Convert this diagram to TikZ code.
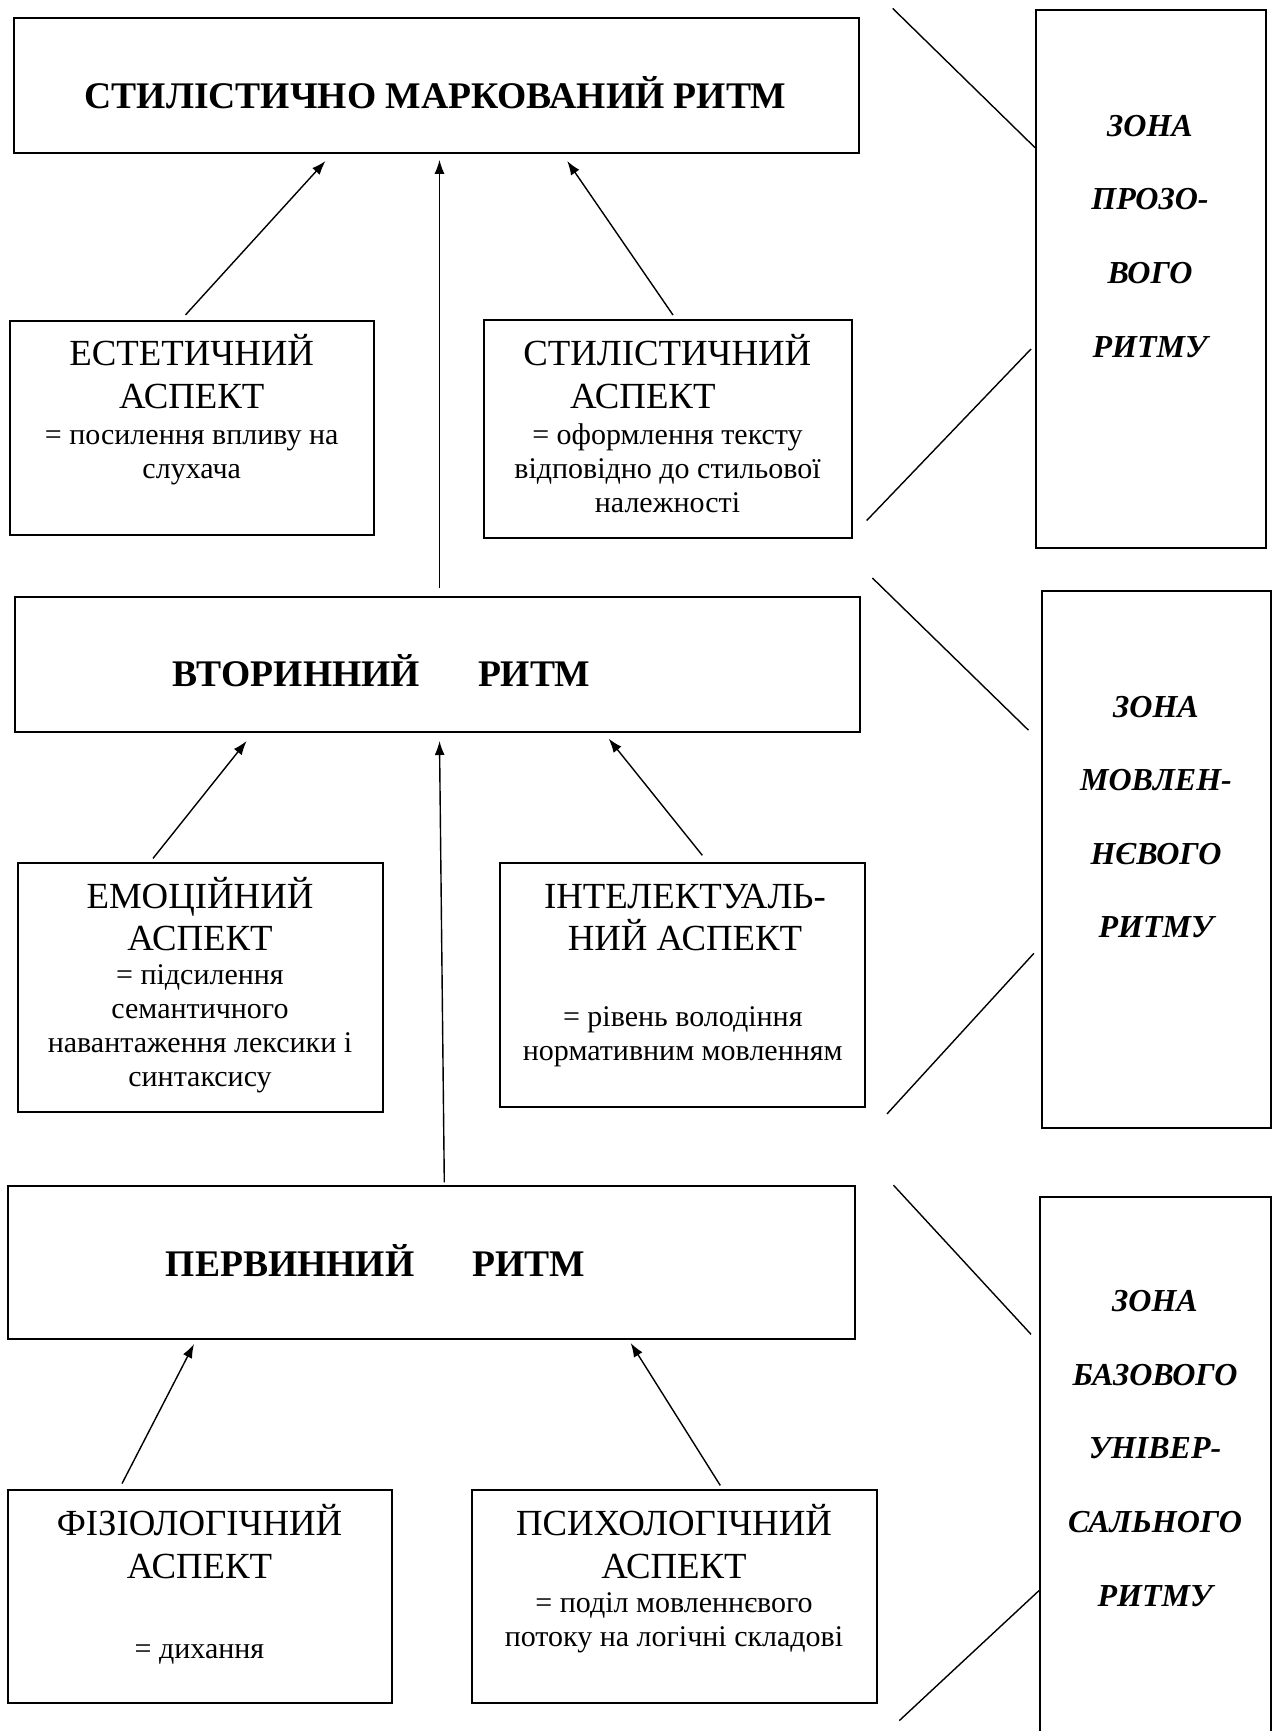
\documentclass[tikz,border=0pt]{standalone}
\usepackage{fontspec}
\setmainfont{Liberation Serif}
\usetikzlibrary{arrows.meta}

\tikzset{
  box/.style={draw, line width=1pt, inner sep=0pt},
  arr/.style={-{Latex[length=7pt,width=5pt]}, line width=0.7pt},
  link/.style={line width=0.7pt},
  main/.style={inner sep=0pt, font=\fontsize{18.8}{21}\selectfont\bfseries},
  asp/.style={inner sep=0pt, align=center, font=\fontsize{18.4}{21.2}\selectfont},
  note/.style={inner sep=0pt, align=center, font=\fontsize{15}{17}\selectfont},
  zone/.style={inner sep=0pt, align=center, font=\fontsize{16}{36.8}\selectfont\bfseries\itshape}
}

\begin{document}
\begin{tikzpicture}[x=0.5pt,y=-0.5pt]
  \useasboundingbox (0,0) rectangle (1276,1731);

  % Levels of rhythm
  \node[box, minimum width=422.4pt, minimum height=67.5pt] (top) at (436.2,85.5) {};
  \node[box, minimum width=422.7pt, minimum height=67.4pt] (sec) at (437.3,664.5) {};
  \node[box, minimum width=423.2pt, minimum height=76.5pt] (pri) at (431.3,1262.5) {};
  \node[main, anchor=base] (top-t) at (435.4,108.3) {СТИЛІСТИЧНО МАРКОВАНИЙ РИТМ};
  \node[main, anchor=base] (sec-t) at (381.3,686) {ВТОРИННИЙ\hspace{29pt}РИТМ};
  \node[main, anchor=base] (pri-t) at (375.2,1276) {ПЕРВИННИЙ\hspace{29pt}РИТМ};

  % Aspects (base = last line)
  \node[box, minimum width=182.3pt, minimum height=107.2pt] (est) at (192,427.8) {};
  \node[box, minimum width=183.9pt, minimum height=108.9pt] (sty) at (668.1,428.9) {};
  \node[box, minimum width=182.3pt, minimum height=124.4pt] (emo) at (200.2,987.6) {};
  \node[box, minimum width=182.3pt, minimum height=122.1pt] (int) at (682.75,985.3) {};
  \node[box, minimum width=192.1pt, minimum height=106.5pt] (phy) at (200.2,1596.5) {};
  \node[box, minimum width=202.3pt, minimum height=106.5pt] (psy) at (674.25,1596.5) {};

  \node[asp, anchor=base] (est-t) at (191.7,408.3) {ЕСТЕТИЧНИЙ\\АСПЕКТ};
  \node[note, anchor=base] (est-n) at (191.7,478.3) {= посилення впливу на\\слухача};
  \node[asp, anchor=base] (sty-t) at (667.3,408.3) {СТИЛІСТИЧНИЙ\\АСПЕКТ\rule{24.5pt}{0pt}};
  \node[note, anchor=base] (sty-n) at (667.5,512) {= оформлення тексту\\відповідно до стильової\\належності};
  \node[asp, anchor=base] (emo-t) at (200,950.4) {ЕМОЦІЙНИЙ\\АСПЕКТ};
  \node[note, anchor=base] (emo-n) at (200,1086) {= підсилення\\семантичного\\навантаження лексики і\\синтаксису};
  \node[asp, anchor=base] (int-t) at (685,950.4) {ІНТЕЛЕКТУАЛЬ-\\НИЙ АСПЕКТ};
  \node[note, anchor=base] (int-n) at (682.8,1060.3) {= рівень володіння\\нормативним мовленням};
  \node[asp, anchor=base] (phy-t) at (199.5,1578) {ФІЗІОЛОГІЧНИЙ\\АСПЕКТ};
  \node[note, anchor=base] (phy-n) at (199.5,1658) {= дихання};
  \node[asp, anchor=base] (psy-t) at (674,1578) {ПСИХОЛОГІЧНИЙ\\АСПЕКТ};
  \node[note, anchor=base] (psy-n) at (674,1646.5) {= поділ мовленнєвого\\потоку на логічні складові};

  % Arrows
  \draw[arr] ([shift={(-6.5,-4.7)}]est.north) -- ([shift={(-110.7,7)}]top.south);
  \draw[arr] ([shift={(2.2,-7.8)}]sec.north) -- ([shift={(3.3,5.8)}]top.south);
  \draw[arr] ([shift={(4.9,-4)}]sty.north) -- ([shift={(131,7)}]top.south);
  \draw[arr] ([shift={(-47.2,-3.8)}]emo.north) -- ([shift={(-190.7,8.1)}]sec.south);
  \draw[arr] ([shift={(13,-2.7)}]pri.north) -- ([shift={(2.2,8.1)}]sec.south);
  \draw[arr] ([shift={(19.55,-6.9)}]int.north) -- ([shift={(171.4,5.8)}]sec.south);
  \draw[arr] ([shift={(-78.2,-5.4)}]phy.north) -- ([shift={(-237.3,4)}]pri.south);
  \draw[arr] ([shift={(46,-3.6)}]psy.north) -- ([shift={(199.4,3)}]pri.south);

  % Zones
  \node[box, minimum width=115pt, minimum height=269.2pt] (zone1) at (1151,278.8) {};
  \node[box, minimum width=114.7pt, minimum height=268.9pt] (zone2) at (1156.35,859.55) {};
  \node[box, minimum width=115.5pt, minimum height=281.3pt] (zone3) at (1155.5,1478.7) {};
  \node[zone, anchor=base] (zone1-t) at (1150,357) {ЗОНА\\ПРОЗО-\\ВОГО\\РИТМУ};
  \node[zone, anchor=base] (zone2-t) at (1156,937.8) {ЗОНА\\МОВЛЕН-\\НЄВОГО\\РИТМУ};
  \node[zone, anchor=base] (zone3-t) at (1155,1606) {ЗОНА\\БАЗОВОГО\\УНІВЕР-\\САЛЬНОГО\\РИТМУ};

  \coordinate (z1a) at (892.7,8.4);
  \coordinate (z1b) at (866.7,520.5);
  \coordinate (z2a) at (872.4,578);
  \coordinate (z2b) at (887,1113.9);
  \coordinate (z3a) at (893.5,1185.2);
  \coordinate (z3b) at (899.3,1720.6);
  \draw[link] (z1a) -- ([shift={(0,139)}]zone1.north west);
  \draw[link] (z1b) -- ([shift={(-4,340.4)}]zone1.north west);
  \draw[link] (z2a) -- ([shift={(-12.2,140.5)}]zone2.north west);
  \draw[link] (z2b) -- ([shift={(-6.7,363.6)}]zone2.north west);
  \draw[link] (z3a) -- ([shift={(-8,137.9)}]zone3.north west);
  \draw[link] (z3b) -- ([shift={(0,394.2)}]zone3.north west);
\end{tikzpicture}
\end{document}
